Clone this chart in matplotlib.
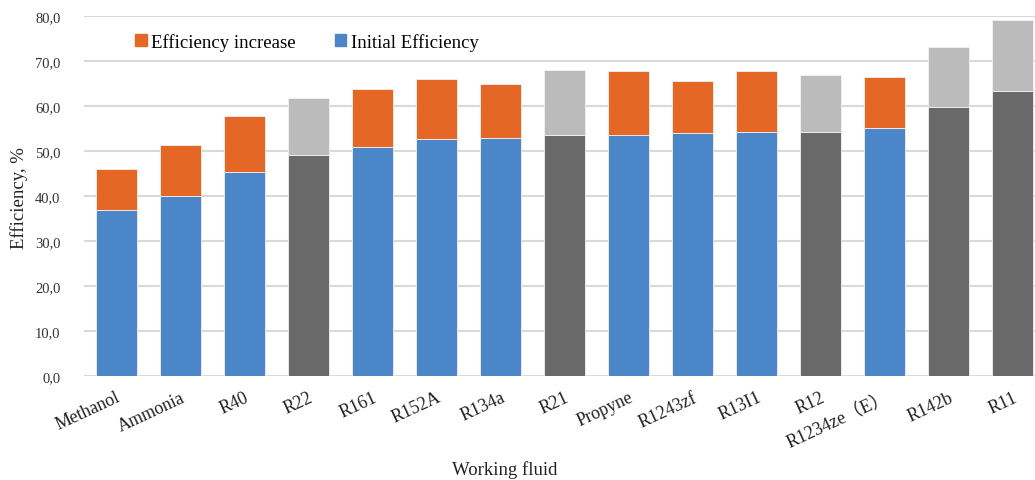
import matplotlib
matplotlib.use("Agg")
import matplotlib.pyplot as plt
from matplotlib.patches import Patch
from matplotlib.ticker import FuncFormatter
import numpy as np

plt.rcParams['font.family'] = ['Liberation Serif', 'Noto Sans CJK SC']

# Working fluids and their efficiency, %
fluids = ['Methanol', 'Ammonia', 'R40', 'R22', 'R161', 'R152A', 'R134a', 'R21',
          'Propyne', 'R1243zf', 'R13I1', 'R12', 'R1234ze（E）', 'R142b', 'R11']
initial = [36.8, 40.1, 45.3, 49.2, 51.0, 52.7, 52.8, 53.5,
           53.6, 54.0, 54.2, 54.3, 55.2, 59.8, 63.3]
final = [45.9, 51.4, 57.8, 61.7, 63.8, 66.0, 64.8, 67.9,
         67.8, 65.5, 67.8, 66.9, 66.5, 73.2, 79.1]
# fluids shown in grey
reference_fluids = ['R22', 'R21', 'R12', 'R142b', 'R11']

blue, orange = '#4a86c8', '#e46726'
dark_grey, light_grey = '#696969', '#bbbbbb'

x = np.arange(len(fluids))
initial = np.array(initial)
increase = np.array(final) - initial
is_ref = np.array([f in reference_fluids for f in fluids])
base_colors = [dark_grey if r else blue for r in is_ref]
top_colors = [light_grey if r else orange for r in is_ref]

fig = plt.figure(figsize=(10.35, 4.81), dpi=100)
ax = fig.add_axes([84 / 1035, 104 / 481, 961 / 1035, 360 / 481])

ax.bar(x, initial, width=0.64, color=base_colors, edgecolor='#f2f2f2', linewidth=0.6, zorder=3)
ax.bar(x, increase, bottom=initial, width=0.64, color=top_colors,
       edgecolor='#f2f2f2', linewidth=0.6, zorder=3)

ax.set_xlim(-0.5, len(fluids) - 0.5)
ax.set_ylim(0, 80)
ax.set_yticks(np.arange(0, 81, 10))
ax.yaxis.set_major_formatter(FuncFormatter(lambda v, p: f"{v:.1f}".replace('.', ',')))
ax.grid(axis='y', color='#d9d9d9', linewidth=1.5, zorder=0)
for s in ax.spines.values():
    s.set_visible(False)
ax.tick_params(axis='both', length=0)
ax.tick_params(axis='y', labelsize=10.5, pad=17, labelcolor='#333333')

ax.set_xticks(x)
ax.set_xticklabels(fluids, rotation=25, ha='right', va='top', rotation_mode='anchor',
                   fontsize=13, color='#222222')
ax.tick_params(axis='x', pad=9)

handles = [Patch(color=orange), Patch(color=blue)]
ax.legend(handles, ['Efficiency increase', 'Initial Efficiency'], ncol=2, frameon=False,
          loc='upper left', bbox_to_anchor=(0.036, 1.0), fontsize=13.5,
          handlelength=0.6, handleheight=0.6, handletextpad=0.25, columnspacing=2.08)

fig.text(505 / 1035, 1 - 470 / 481, 'Working fluid', ha='center', va='center',
         fontsize=13.5, color='#222222')
fig.text(19 / 1035, 1 - 198 / 481, 'Efficiency, %', ha='center', va='center',
         rotation=90, fontsize=13.5, color='#222222')

fig.savefig('out.png', dpi=100)
